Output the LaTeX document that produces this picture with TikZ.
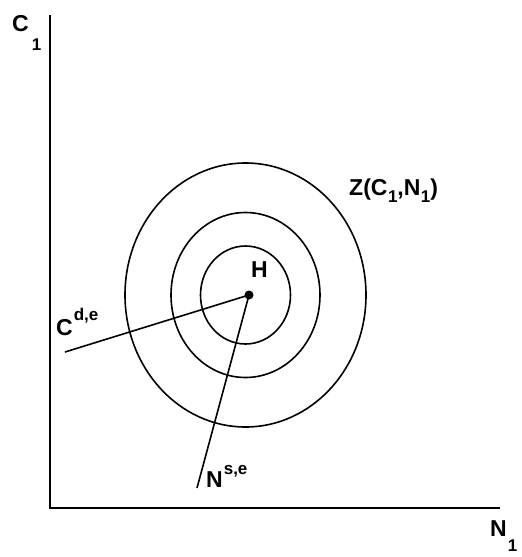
\documentclass[tikz,border=0pt]{standalone}
\usepackage{fontspec}
\setmainfont{Liberation Sans}
\begin{document}
\begin{tikzpicture}[x=1pt,y=-1pt,
  lbl/.style={anchor=base west,inner sep=0pt,font=\fontsize{23}{23}\selectfont\bfseries},
  axis/.style={line width=2pt},
  ring/.style={line width=1.6pt},
  ray/.style={line width=1.6pt}]
\newcommand{\sm}[1]{{\fontsize{17}{17}\selectfont #1}}
\useasboundingbox (0,0) rectangle (522,557);
% axes
\coordinate (ytop) at (50,15);
\coordinate (orig) at (50,508);
\coordinate (xend) at (500,508);
\draw[axis] (ytop) -- (orig) -- (xend);
% rings
\coordinate (c) at (245.5,295);
\draw[ring] (c) ellipse [x radius=120.5, y radius=132];
\draw[ring] (c) ellipse [x radius=74.5, y radius=82.5];
\draw[ring] (c) ellipse [x radius=45, y radius=49];
% H point
\node[circle,fill,inner sep=0pt,minimum size=9pt] (H) at (249,295) {};
\coordinate (cde) at (65,352);
\coordinate (nse) at (197,488);
\draw[ray] (H.center) -- (cde);
\draw[ray] (H.center) -- (nse);
% labels
\node[lbl] (lC1) at (12,31) {C\hspace{3pt}\raisebox{-19pt}{\sm{1}}};
\node[lbl] (lN1) at (490,536) {N\hspace{1pt}\raisebox{-15pt}{\sm{1}}};
\node[lbl] (lZ) at (349,195) {Z(C\hspace{0.5pt}\raisebox{-7pt}{\sm{1}},N\hspace{0.5pt}\raisebox{-7pt}{\sm{1}})};
\node[lbl] (lH) at (251,277) {H};
\node[lbl] (lC) at (56,335) {C\hspace{1pt}\raisebox{15pt}{\sm{d,e}}};
\node[lbl] (lN) at (206,487) {N\hspace{1pt}\raisebox{13pt}{\sm{s,e}}};
\end{tikzpicture}
\end{document}
